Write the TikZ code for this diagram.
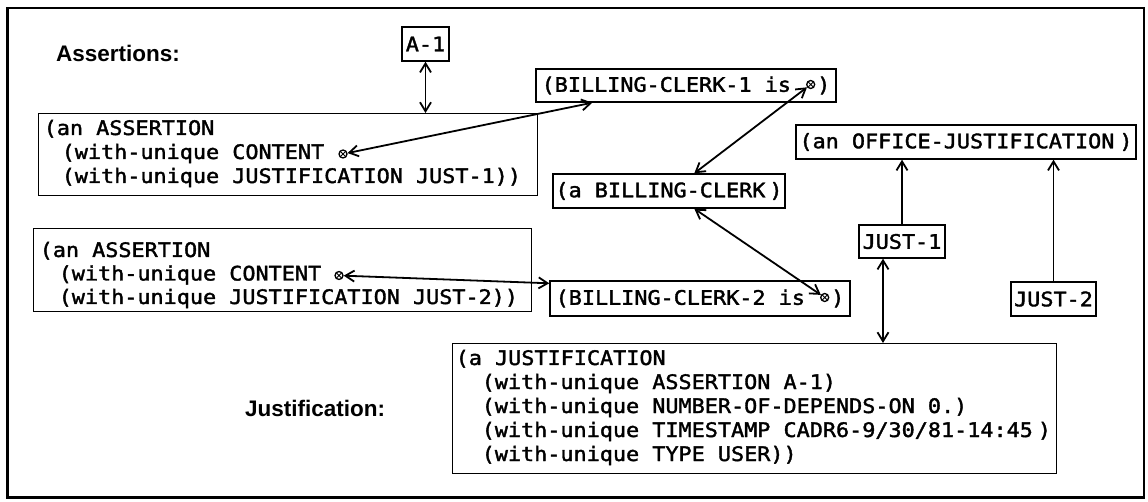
\documentclass[tikz,border=0pt]{standalone}
\usepackage{fontspec}
\setmainfont{DejaVu Sans}
\newfontfamily\lispfont[FakeStretch=1.09,FakeBold=1.8]{DejaVu Sans Mono}
\newfontfamily\labelfont{Liberation Sans}
\usetikzlibrary{arrows.meta}
\begin{document}
\begin{tikzpicture}[x=1pt,y=-1pt,
  frame/.style={draw, line width=2.4pt},
  lisp/.style={inner sep=0pt, font=\lispfont\fontsize{20pt}{24pt}\selectfont},
  line/.style={lisp, anchor=base west},
  tagbox/.style={lisp, draw, line width=1.4pt},
  bigbox/.style={draw, line width=1.4pt, inner sep=0pt, anchor=north west},
  lbl/.style={inner sep=0pt, anchor=base west, font=\labelfont\bfseries\fontsize{22.5pt}{27pt}\selectfont},
  ox/.style={circle, draw, line width=1.3pt, inner sep=0pt, minimum size=8pt,
    path picture={\draw[line width=1pt] (path picture bounding box.north west) -- (path picture bounding box.south east)
      (path picture bounding box.north east) -- (path picture bounding box.south west);}},
  tip/.tip={Straight Barb[length=9pt,width=11pt]},
  dbl/.style={tip-tip, line width=1.8pt},
  sgl/.style={-tip, line width=1.8pt}
]
\useasboundingbox (0,0) rectangle (1148,502);
\draw[frame] (7.5,8) rectangle (1144,497.5);

% labels
\node[lbl] (lassert) at (56,62) {Assertions:};
\node[lbl] (ljust) at (245,416) {Justification:};

% single-line boxes
\node[tagbox, minimum width=47pt, minimum height=34pt] (a1) at (425.5,44) {A-1};
\node[tagbox, minimum width=300pt, minimum height=33pt] (bc1) at (686,85.5) {(BILLING-CLERK-1 is\ \ )};
\node[tagbox, minimum width=232pt, minimum height=34pt] (bcl) at (669,191) {(a BILLING-CLERK\hspace{4pt})};
\node[tagbox, minimum width=340pt, minimum height=34pt] (off) at (966,142) {(an OFFICE-JUSTIFICATION\hspace{5pt})};
\node[tagbox, minimum width=86pt, minimum height=33pt] (j1) at (902,241.5) {JUST-1};
\node[tagbox, minimum width=85pt, minimum height=34pt] (j2) at (1053.5,299) {JUST-2};
\node[tagbox, minimum width=300pt, minimum height=35pt] (bc2) at (700,298.5) {(BILLING-CLERK-2 is\ \ )};

% first assertion
\node[bigbox, minimum width=499pt, minimum height=82pt] (asrt1) at (38,113) {};
\node[line] (a1l1) at (43.5,135) {(an ASSERTION};
\node[line] (a1l2) at (61.5,159) {(with-unique CONTENT};
\node[line] (a1l3) at (61.5,183) {(with-unique JUSTIFICATION JUST-1))};

% second assertion
\node[bigbox, minimum width=498pt, minimum height=83pt] (asrt2) at (33,228) {};
\node[line] (a2l1) at (39.5,257) {(an ASSERTION};
\node[line] (a2l2) at (58.5,280.5) {(with-unique CONTENT};
\node[line] (a2l3) at (58.5,304) {(with-unique JUSTIFICATION JUST-2))};

% justification
\node[bigbox, minimum width=604pt, minimum height=130pt] (just) at (452,343) {};
\node[line] (jl1) at (455.5,365) {(a JUSTIFICATION};
\node[line] (jl2) at (481.5,389) {(with-unique ASSERTION A-1)};
\node[line] (jl3) at (481.5,413) {(with-unique NUMBER-OF-DEPENDS-ON 0.)};
\node[line] (jl4) at (481.5,437) {(with-unique TIMESTAMP CADR6-9/30/81-14:45\hspace{5pt})};
\node[line] (jl5) at (481.5,461) {(with-unique TYPE USER))};

% pointer markers
\node[ox] (ox1) at (343,154) {};
\node[ox] (ox2) at (339,275.5) {};
\node[ox] (bc1x) at ([xshift=-26pt,yshift=1pt]bc1.east) {};
\node[ox] (bc2x) at ([xshift=-26pt,yshift=1pt]bc2.east) {};

% connectors
\draw[dbl] (a1) -- (a1 |- asrt1.north);
\draw[dbl] (ox1) -- ([xshift=57pt]bc1.south west);
\draw[dbl] (bc1x) -- ([xshift=142pt]bcl.north west);
\draw[dbl] ([xshift=142pt]bcl.south west) -- (bc2x);
\draw[dbl] (ox2) -- ([yshift=-3pt]bc2.north west);
\draw[sgl] (j1) -- (j1 |- off.south);
\draw[sgl] (j2) -- (j2 |- off.south);
\draw[dbl] ([xshift=-19pt]j1.south) -- ([xshift=-19pt]j1.south |- just.north);
\end{tikzpicture}
\end{document}
